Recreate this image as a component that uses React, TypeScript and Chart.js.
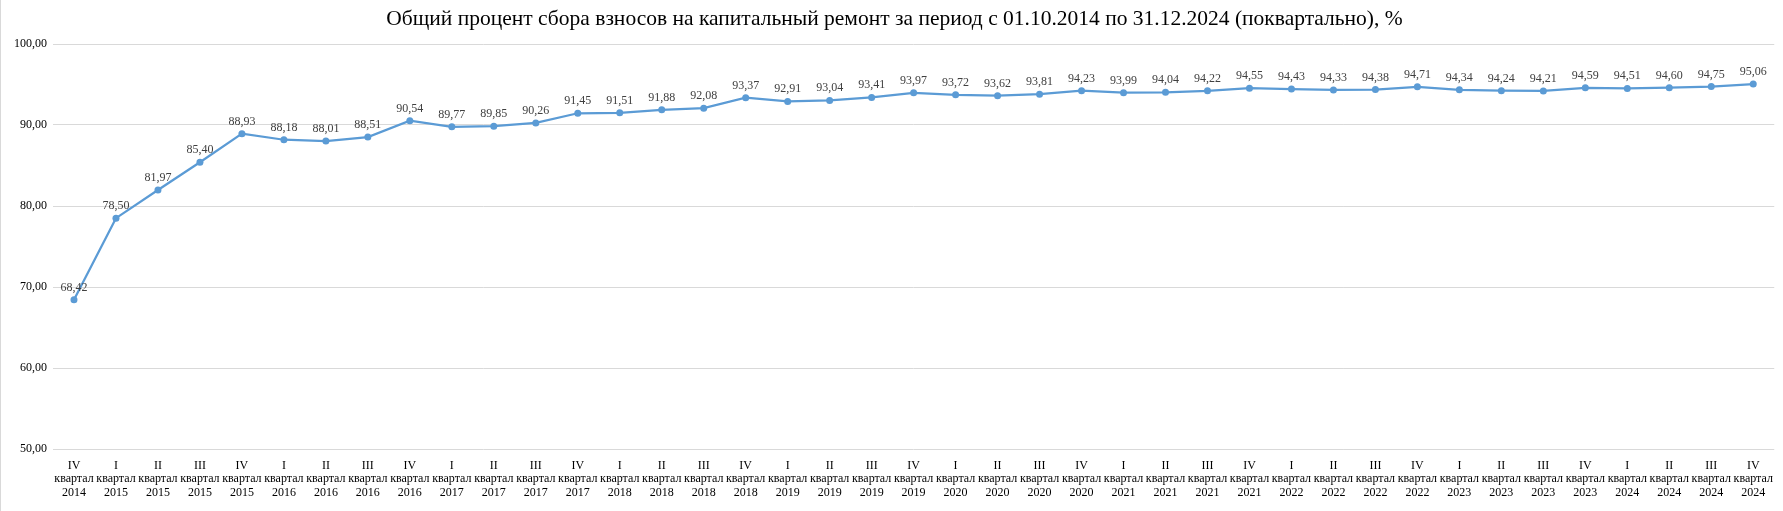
import React, { useEffect, useRef } from "react";
import { Chart, registerables } from "chart.js";

Chart.register(...registerables);

const TITLE =
  "Общий процент сбора взносов на капитальный ремонт за период с 01.10.2014 по 31.12.2024 (поквартально), %";

const quarters = [
  "IV",
  "I", "II", "III", "IV",
  "I", "II", "III", "IV",
  "I", "II", "III", "IV",
  "I", "II", "III", "IV",
  "I", "II", "III", "IV",
  "I", "II", "III", "IV",
  "I", "II", "III", "IV",
  "I", "II", "III", "IV",
  "I", "II", "III", "IV",
  "I", "II", "III", "IV",
];

const years = [
  "2014",
  "2015", "2015", "2015", "2015",
  "2016", "2016", "2016", "2016",
  "2017", "2017", "2017", "2017",
  "2018", "2018", "2018", "2018",
  "2019", "2019", "2019", "2019",
  "2020", "2020", "2020", "2020",
  "2021", "2021", "2021", "2021",
  "2022", "2022", "2022", "2022",
  "2023", "2023", "2023", "2023",
  "2024", "2024", "2024", "2024",
];

const values = [
  68.42,
  78.5, 81.97, 85.4, 88.93,
  88.18, 88.01, 88.51, 90.54,
  89.77, 89.85, 90.26, 91.45,
  91.51, 91.88, 92.08, 93.37,
  92.91, 93.04, 93.41, 93.97,
  93.72, 93.62, 93.81, 94.23,
  93.99, 94.04, 94.22, 94.55,
  94.43, 94.33, 94.38, 94.71,
  94.34, 94.24, 94.21, 94.59,
  94.51, 94.6, 94.75, 95.06,
];

const yMin = 50;
const yMax = 100;
const yStep = 10;

const FONT = "'Liberation Serif', 'Times New Roman', serif";
const BLUE = "#5B9BD5";

const fmt = (v: number) => v.toFixed(2).replace(".", ",");

const bgPlugin = {
  id: "bg",
  beforeDraw(chart: any) {
    const { ctx, width, height } = chart;
    ctx.save();
    ctx.fillStyle = "#ffffff";
    ctx.fillRect(0, 0, width, height);
    ctx.strokeStyle = "#d9d9d9";
    ctx.lineWidth = 1;
    ctx.beginPath();
    ctx.moveTo(0.5, 0);
    ctx.lineTo(0.5, height);
    ctx.stroke();
    ctx.restore();
  },
};

const labelPlugin = {
  id: "valueLabels",
  afterDatasetsDraw(chart: any) {
    const { ctx } = chart;
    const meta = chart.getDatasetMeta(0);
    const data = chart.data.datasets[0].data as number[];
    ctx.save();
    ctx.font = `12px ${FONT}`;
    ctx.fillStyle = "#404040";
    ctx.textAlign = "center";
    ctx.textBaseline = "alphabetic";
    meta.data.forEach((pt: any, i: number) => {
      ctx.fillText(fmt(data[i]), pt.x, pt.y - 9);
    });
    ctx.restore();
  },
};

export default function App() {
  const ref = useRef<HTMLCanvasElement | null>(null);

  useEffect(() => {
    if (!ref.current) return;
    const labels = quarters.map((q, i) => [q, "квартал", years[i]]);
    const chart = new Chart(ref.current, {
      type: "line",
      data: {
        labels,
        datasets: [
          {
            data: values,
            borderColor: BLUE,
            backgroundColor: BLUE,
            borderWidth: 2.25,
            pointRadius: 3.5,
            pointBorderWidth: 0,
            pointBackgroundColor: BLUE,
            tension: 0,
          },
        ],
      },
      options: {
        animation: false,
        responsive: false,
        layout: { padding: { left: 14, right: 8, top: 0, bottom: 0 } },
        plugins: {
          legend: { display: false },
          tooltip: { enabled: false },
          title: {
            display: true,
            text: TITLE,
            color: "#000000",
            font: { family: FONT, size: 21.5, weight: "normal" },
            padding: { top: 6.6, bottom: 11.6 },
          },
        },
        scales: {
          x: {
            offset: true,
            grid: { display: false, drawTicks: false },
            border: { display: false },
            ticks: {
              color: "#000000",
              font: { family: FONT, size: 12, lineHeight: 1.13 },
              padding: 10,
              maxRotation: 0,
              minRotation: 0,
              autoSkip: false,
            },
            afterFit(scale: any) {
              scale.height = 62;
            },
          },
          y: {
            min: yMin,
            max: yMax,
            grid: { color: "#d9d9d9", lineWidth: 1, drawTicks: false },
            border: { display: false },
            ticks: {
              stepSize: yStep,
              color: "#000000",
              font: { family: FONT, size: 12 },
              padding: 6,
              callback: (v: any) => fmt(Number(v)),
            },
            afterFit(scale: any) {
              scale.width = 39;
            },
          },
        },
      },
      plugins: [bgPlugin, labelPlugin],
    });
    return () => chart.destroy();
  }, []);

  return (
    <div style={{ position: "fixed", left: 0, top: 0, width: 1783, height: 511, background: "#fff" }}>
      <canvas ref={ref} width={1783} height={511} style={{ display: "block" }} />
    </div>
  );
}
